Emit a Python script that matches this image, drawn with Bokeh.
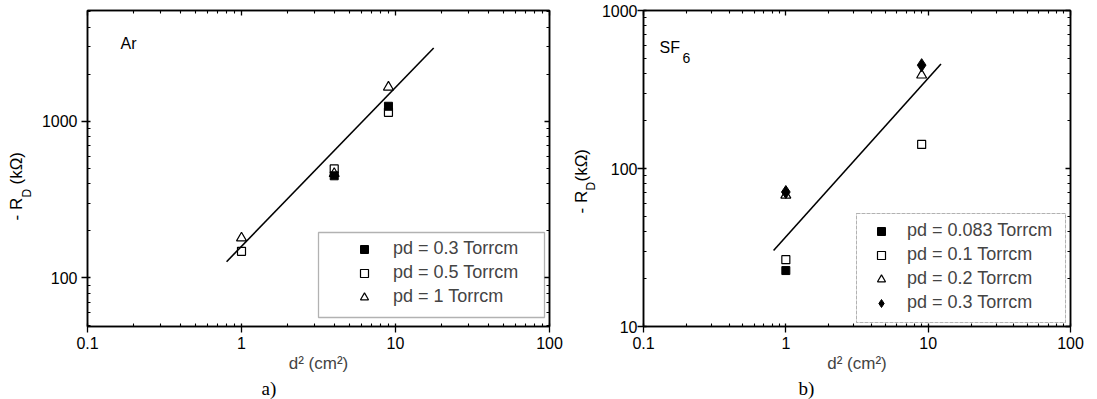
import math
from bokeh.plotting import figure
from bokeh.models import (Range1d, LogAxis, Label, Legend, LegendItem, BoxAnnotation,
                          BasicTickFormatter, FixedTicker, Title)
from bokeh.layouts import row
from bokeh.embed import file_html
from bokeh.resources import INLINE

# ---------------- data: panel a) Ar ----------------
ar_x_03 = [4, 9]
ar_y_03 = [449, 1248]
ar_x_05 = [1, 4, 9]
ar_y_05 = [148, 497, 1142]
ar_x_1 = [1, 4, 9]
ar_y_1 = [180, 464, 1652]
ar_fit_x = [0.8, 17.7]
ar_fit_y = [127, 2940]
ar_labels = ["pd = 0.3 Torrcm", "pd = 0.5 Torrcm", "pd = 1 Torrcm"]

# ---------------- data: panel b) SF6 ----------------
sf_x_0083 = [1]
sf_y_0083 = [22.6]
sf_x_01 = [1, 9]
sf_y_01 = [26.5, 142]
sf_x_02 = [1, 9]
sf_y_02 = [67.7, 390]
sf_x_03 = [1, 9]
sf_y_03 = [71, 451]
sf_fit_x = [0.82, 12.3]
sf_fit_y = [30.3, 458]
sf_labels = ["pd = 0.083 Torrcm", "pd = 0.1 Torrcm", "pd = 0.2 Torrcm", "pd = 0.3 Torrcm"]

# ---------------- ticks / texts ----------------
x_ticks = [0.1, 1, 10, 100]
ya_ticks = [100, 1000]
yb_ticks = [10, 100, 1000]
x_label = "d² (cm²)"
captions = ["a)", "b)"]
FONT = "Liberation Sans"
SERIF = "Liberation Serif"


def minors(lo, hi):
    out = []
    k = math.floor(math.log10(lo))
    while 10 ** k <= hi:
        for m in range(2, 10):
            v = m * 10 ** k
            if lo <= v <= hi:
                out.append(v)
        k += 1
    return out


def make_fig(frame_w, bl, br, xr, yr, yt, caption, cap_offset, ystand):
    p = figure(frame_width=frame_w, frame_height=316,
               x_axis_type="log", y_axis_type="log",
               x_range=Range1d(*xr), y_range=Range1d(*yr),
               output_backend="svg", toolbar_location=None,
               min_border_left=bl, min_border_right=br,
               min_border_top=10, min_border_bottom=73,
               background_fill_color="white", border_fill_color="white")
    p.grid.visible = False
    p.outline_line_color = "black"
    p.outline_line_width = 1.5
    xtk = FixedTicker(ticks=x_ticks, minor_ticks=minors(*xr))
    ytk = FixedTicker(ticks=yt, minor_ticks=minors(*yr))
    p.xaxis[0].ticker = xtk
    p.yaxis[0].ticker = ytk
    for ax in (p.xaxis[0], p.yaxis[0]):
        ax.formatter = BasicTickFormatter(use_scientific=False)
        ax.axis_line_width = 1.5
        ax.major_tick_out = 6
        ax.major_tick_in = 3
        ax.minor_tick_out = 0
        ax.minor_tick_in = 3
        ax.major_tick_line_width = 1.3
        ax.minor_tick_line_width = 1.1
        ax.major_label_text_font = FONT
        ax.major_label_text_font_size = "16px"
        ax.major_label_text_color = "black"
    p.yaxis[0].major_label_standoff = ystand
    p.xaxis[0].major_label_standoff = 4
    p.xaxis[0].axis_label = x_label
    p.xaxis[0].axis_label_text_font = FONT
    p.xaxis[0].axis_label_text_font_style = "normal"
    p.xaxis[0].axis_label_text_font_size = "17px"
    p.xaxis[0].axis_label_standoff = 2
    for place, tk in (("above", xtk), ("right", ytk)):
        ax = LogAxis(ticker=tk, major_tick_in=5, major_tick_out=0, minor_tick_in=3, minor_tick_out=0,
                     axis_line_width=1.5, major_label_text_font_size="2px",
                     major_label_text_alpha=0.0,
                     major_label_standoff=0, major_tick_line_width=1.3,
                     minor_tick_line_width=1.1)
        p.add_layout(ax, place)
    p.add_layout(Title(text=caption, align="left", offset=cap_offset, standoff=0,
                       text_font=SERIF, text_font_size="19px", text_font_style="normal",
                       text_color="black"), "below")
    return p


def screen_label(p, text, x, y, size, angle=0.0, align="left", font=FONT, baseline="middle"):
    p.add_layout(Label(x=x, y=y, x_units="screen", y_units="screen", text=text,
                       text_font=font, text_font_size=size, angle=angle,
                       text_align=align, text_baseline=baseline, text_color="black"))


def label_fig(width):
    f = figure(width=width, height=399, x_range=Range1d(0, 1), y_range=Range1d(0, 1),
               x_axis_location=None, y_axis_location=None,
               output_backend="svg", toolbar_location=None,
               min_border_left=0, min_border_right=0, min_border_top=0, min_border_bottom=0,
               border_fill_color="white", background_fill_color="white")
    f.grid.visible = False
    f.outline_line_color = None
    return f


# ---------------- y-label strips (frame aligned to the plots: y from 326 px) ----------------
la = label_fig(34)
screen_label(la, "- R", 15.7, 106, "17px", angle=math.pi / 2)
screen_label(la, "D", 26, 129, "12px", angle=math.pi / 2)
screen_label(la, "(kΩ)", 15.7, 142, "17px", angle=math.pi / 2)

lb = label_fig(33)
screen_label(lb, "- R", 16, 113, "17px", angle=math.pi / 2)
screen_label(lb, "D", 25, 136, "12px", angle=math.pi / 2)
screen_label(lb, "(kΩ)", 16, 145, "17px", angle=math.pi / 2)

# ---------------- panel a ----------------
pa = make_fig(462, 53, 16, (0.1, 100), (49, 5100), ya_ticks, captions[0], 174, 4)
pa.line(ar_fit_x, ar_fit_y, line_color="black", line_width=1.6)
ra1 = pa.scatter(ar_x_03, ar_y_03, marker="square", size=8, fill_color="black", line_color="black")
ra2 = pa.scatter(ar_x_05, ar_y_05, marker="square", size=8, fill_color=None, line_color="black", line_width=1.2)
ra3 = pa.scatter(ar_x_1, ar_y_1, marker="triangle", size=10, fill_color=None, line_color="black", line_width=1.2)
leg_a = Legend(items=[LegendItem(label=ar_labels[0], renderers=[ra1]),
                      LegendItem(label=ar_labels[1], renderers=[ra2]),
                      LegendItem(label=ar_labels[2], renderers=[ra3])],
               location=(267, 19), padding=0, margin=0, spacing=3,
               glyph_width=20, glyph_height=20, label_height=20, label_standoff=19,
               border_line_alpha=0, background_fill_alpha=0,
               label_text_font=FONT, label_text_font_size="18px")
pa.add_layout(leg_a)
pa.add_layout(BoxAnnotation(left=231, right=457, bottom=9, top=94,
                            left_units="screen", right_units="screen",
                            bottom_units="screen", top_units="screen",
                            fill_alpha=0, line_color="black", line_width=1.3))
screen_label(pa, "Ar", 33, 283, "16px")

# ---------------- panel b ----------------
pb = make_fig(427, 45, 27, (0.1, 100), (10, 1000), yb_ticks, captions[1], 155, 0)
pb.line(sf_fit_x, sf_fit_y, line_color="black", line_width=1.6)
rb1 = pb.scatter(sf_x_0083, sf_y_0083, marker="square", size=8, fill_color="black", line_color="black")
rb2 = pb.scatter(sf_x_01, sf_y_01, marker="square", size=8, fill_color=None, line_color="black", line_width=1.2)
rb3 = pb.scatter(sf_x_02, sf_y_02, marker="triangle", size=10, fill_color=None, line_color="black", line_width=1.2)
rb4 = pb.scatter(sf_x_03, sf_y_03, marker="diamond", size=13, fill_color="black", line_color="black")
leg_b = Legend(items=[LegendItem(label=sf_labels[0], renderers=[rb1]),
                      LegendItem(label=sf_labels[1], renderers=[rb2]),
                      LegendItem(label=sf_labels[2], renderers=[rb3]),
                      LegendItem(label=sf_labels[3], renderers=[rb4])],
               location=(228, 13), padding=0, margin=0, spacing=3,
               glyph_width=20, glyph_height=20, label_height=20, label_standoff=16,
               border_line_alpha=0, background_fill_alpha=0,
               label_text_font=FONT, label_text_font_size="18px")
pb.add_layout(leg_b)
pb.add_layout(BoxAnnotation(left=213, right=422, bottom=4, top=113,
                            left_units="screen", right_units="screen",
                            bottom_units="screen", top_units="screen",
                            fill_alpha=0, line_color="black", line_width=1.0,
                            line_dash="4 1"))
screen_label(pb, "SF", 16, 279, "16px")
screen_label(pb, "6", 39, 269, "14px")

layout = row(la, pa, lb, pb, spacing=0)
open("out.html", "w").write(file_html(layout, INLINE))
